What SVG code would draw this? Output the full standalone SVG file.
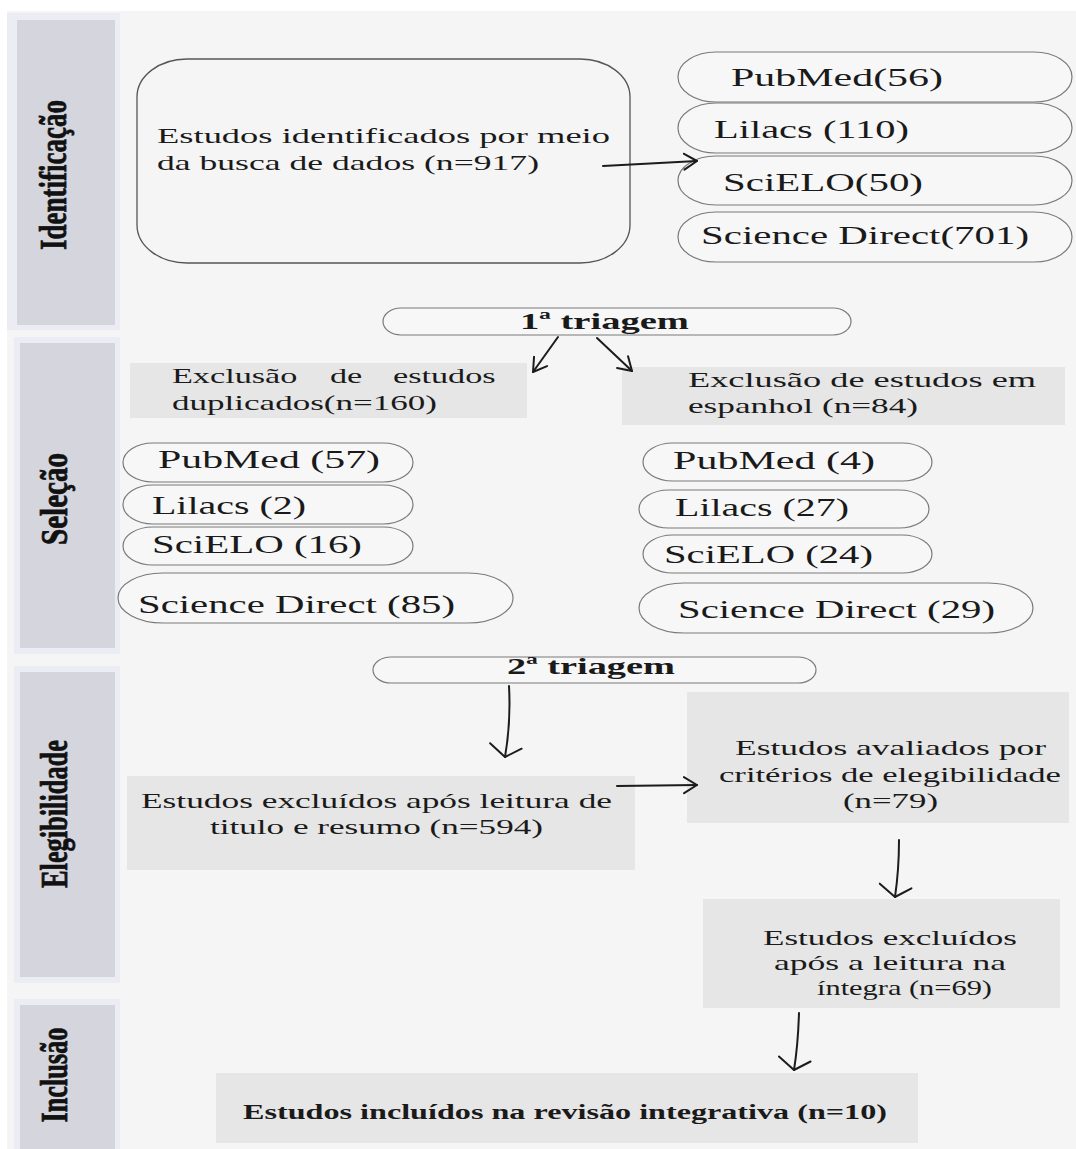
<svg xmlns="http://www.w3.org/2000/svg" width="1076" height="1149" viewBox="0 0 1076 1149">
<style>
.t{font-family:"Liberation Serif","Times New Roman",serif;fill:#1a1a1a}
.r{font-size:21px}
.p{font-size:26px}
.b{font-weight:bold}
.tri{font-size:24px;font-weight:bold}
.lab{font-family:"Liberation Serif","Times New Roman",serif;font-weight:bold;font-size:25px;fill:#111;stroke:#111;stroke-width:0.5}
.halo{fill:#ececf5}
.panel{fill:#d5d5de}
.pill{fill:#f7f7f7;stroke:#7a7a7a;stroke-width:1.2}
.box{fill:#e6e6e6}
.conn{fill:none;stroke:#1c1c1c;stroke-width:2;stroke-linecap:round}
</style>
<defs>
<marker id="ah" viewBox="-14 -12 16 24" refX="0" refY="0" markerWidth="16" markerHeight="24" markerUnits="userSpaceOnUse" orient="auto">
<path d="M-13,-8 L0,0 L-13,8" fill="none" stroke="#1c1c1c" stroke-width="2" stroke-linecap="round" stroke-linejoin="round"/>
</marker>
<marker id="ahw" viewBox="-14 -20 16 40" refX="0" refY="0" markerWidth="16" markerHeight="40" markerUnits="userSpaceOnUse" orient="auto">
<path d="M-11,-15 L0,0 L-11,17" fill="none" stroke="#1c1c1c" stroke-width="2" stroke-linecap="round" stroke-linejoin="round"/>
</marker>
</defs>
<rect x="0" y="0" width="1076" height="1149" fill="#ffffff"/>
<rect x="7" y="11" width="1069" height="1138" fill="#f5f5f5"/>

<g id="fase-identificacao">
<rect class="halo" x="7" y="13" width="113" height="317"/>
<rect class="panel" x="17" y="20" width="98" height="305"/>
<text class="lab" transform="translate(66,175) scale(1.55,1) rotate(-90)" text-anchor="middle" textLength="150" lengthAdjust="spacingAndGlyphs">Identificação</text>
</g>
<g id="fase-selecao">
<rect class="halo" x="14" y="337" width="106" height="317"/>
<rect class="panel" x="20" y="343" width="95" height="305"/>
<text class="lab" transform="translate(67,499) scale(1.55,1) rotate(-90)" text-anchor="middle" textLength="92" lengthAdjust="spacingAndGlyphs">Seleção</text>
</g>
<g id="fase-elegibilidade">
<rect class="halo" x="14" y="666" width="106" height="317"/>
<rect class="panel" x="20" y="672" width="95" height="305"/>
<text class="lab" transform="translate(67,814) scale(1.55,1) rotate(-90)" text-anchor="middle" textLength="148" lengthAdjust="spacingAndGlyphs">Elegibilidade</text>
</g>
<g id="fase-inclusao">
<rect class="halo" x="14" y="999" width="106" height="150"/>
<rect class="panel" x="20" y="1005" width="95" height="144"/>
<text class="lab" transform="translate(67,1075) scale(1.55,1) rotate(-90)" text-anchor="middle" textLength="95" lengthAdjust="spacingAndGlyphs">Inclusão</text>
</g>

<g id="estudos-identificados">
<rect x="137" y="59" width="493" height="204" rx="50" ry="38" fill="#f5f5f5" stroke="#555" stroke-width="1.3"/>
<text class="t r" x="157" y="143" textLength="453" lengthAdjust="spacingAndGlyphs">Estudos identificados por meio</text>
<text class="t r" x="157" y="170" textLength="382" lengthAdjust="spacingAndGlyphs">da busca de dados (n=917)</text>
</g>

<g id="id-pubmed">
<rect class="pill" x="678" y="52" width="394" height="50" rx="38" ry="25"/>
<text class="t p" x="731" y="86" textLength="212" lengthAdjust="spacingAndGlyphs">PubMed(56)</text>
</g>
<g id="id-lilacs">
<rect class="pill" x="678" y="103" width="394" height="50" rx="38" ry="25"/>
<text class="t p" x="714" y="138" textLength="195" lengthAdjust="spacingAndGlyphs">Lilacs (110)</text>
</g>
<g id="id-scielo">
<rect class="pill" x="678" y="156" width="394" height="49" rx="38" ry="24.5"/>
<text class="t p" x="723" y="191" textLength="200" lengthAdjust="spacingAndGlyphs">SciELO(50)</text>
</g>
<g id="id-sciencedirect">
<rect class="pill" x="678" y="212" width="394" height="50" rx="38" ry="25"/>
<text class="t p" x="701" y="244" textLength="328" lengthAdjust="spacingAndGlyphs">Science Direct(701)</text>
</g>

<g id="triagem-1">
<rect class="pill" x="383" y="308" width="468" height="27" rx="18" ry="13.5"/>
<text class="t tri" x="520" y="329" textLength="169" lengthAdjust="spacingAndGlyphs">1ª triagem</text>
</g>

<g id="exclusao-duplicados">
<rect class="box" x="130" y="363" width="397" height="55"/>
<text class="t r" transform="translate(0,383) scale(1.63,1)"><tspan x="105.5" y="0">Exclusão</tspan><tspan x="202.4" y="0">de</tspan><tspan x="241.1" y="0">estudos</tspan></text>
<text class="t r" x="172" y="410" textLength="265" lengthAdjust="spacingAndGlyphs">duplicados(n=160)</text>
</g>
<g id="exclusao-espanhol">
<rect class="box" x="622" y="367" width="443" height="58"/>
<text class="t r" x="688" y="387" textLength="348" lengthAdjust="spacingAndGlyphs">Exclusão de estudos em</text>
<text class="t r" x="688" y="413" textLength="230" lengthAdjust="spacingAndGlyphs">espanhol (n=84)</text>
</g>

<g id="dup-pubmed">
<rect class="pill" x="123" y="443" width="290" height="39" rx="30" ry="19.5"/>
<text class="t p" x="158" y="468" textLength="222" lengthAdjust="spacingAndGlyphs">PubMed (57)</text>
</g>
<g id="dup-lilacs">
<rect class="pill" x="123" y="485" width="290" height="39" rx="30" ry="19.5"/>
<text class="t p" x="152" y="514" textLength="154" lengthAdjust="spacingAndGlyphs">Lilacs (2)</text>
</g>
<g id="dup-scielo">
<rect class="pill" x="123" y="527" width="290" height="38" rx="30" ry="19"/>
<text class="t p" x="152" y="553" textLength="210" lengthAdjust="spacingAndGlyphs">SciELO (16)</text>
</g>
<g id="dup-sciencedirect">
<rect class="pill" x="118" y="573" width="395" height="50" rx="45" ry="25"/>
<text class="t p" x="138" y="613" textLength="317" lengthAdjust="spacingAndGlyphs">Science Direct (85)</text>
</g>

<g id="esp-pubmed">
<rect class="pill" x="643" y="443" width="289" height="38" rx="30" ry="19"/>
<text class="t p" x="673" y="469" textLength="202" lengthAdjust="spacingAndGlyphs">PubMed (4)</text>
</g>
<g id="esp-lilacs">
<rect class="pill" x="639" y="490" width="290" height="38" rx="30" ry="19"/>
<text class="t p" x="675" y="516" textLength="174" lengthAdjust="spacingAndGlyphs">Lilacs (27)</text>
</g>
<g id="esp-scielo">
<rect class="pill" x="643" y="535" width="289" height="38" rx="30" ry="19"/>
<text class="t p" x="664" y="563" textLength="209" lengthAdjust="spacingAndGlyphs">SciELO (24)</text>
</g>
<g id="esp-sciencedirect">
<rect class="pill" x="639" y="583" width="394" height="50" rx="45" ry="25"/>
<text class="t p" x="678" y="618" textLength="317" lengthAdjust="spacingAndGlyphs">Science Direct (29)</text>
</g>

<g id="triagem-2">
<rect class="pill" x="373" y="657" width="443" height="26" rx="18" ry="13"/>
<text class="t tri" x="507" y="674" textLength="168" lengthAdjust="spacingAndGlyphs">2ª triagem</text>
</g>

<g id="excluidos-titulo">
<rect class="box" x="127" y="776" width="508" height="94"/>
<text class="t r" x="141" y="808" textLength="471" lengthAdjust="spacingAndGlyphs">Estudos excluídos após leitura de</text>
<text class="t r" x="210" y="834" textLength="333" lengthAdjust="spacingAndGlyphs">titulo e resumo (n=594)</text>
</g>
<g id="avaliados">
<rect class="box" x="687" y="692" width="382" height="131"/>
<text class="t r" x="735" y="755" textLength="311" lengthAdjust="spacingAndGlyphs">Estudos avaliados por</text>
<text class="t r" x="719" y="782" textLength="342" lengthAdjust="spacingAndGlyphs">critérios de elegibilidade</text>
<text class="t r" x="843" y="808" textLength="95" lengthAdjust="spacingAndGlyphs">(n=79)</text>
</g>
<g id="excluidos-integra">
<rect class="box" x="703" y="899" width="357" height="109"/>
<text class="t r" x="763" y="945" textLength="254" lengthAdjust="spacingAndGlyphs">Estudos excluídos</text>
<text class="t r" x="774" y="970" textLength="232" lengthAdjust="spacingAndGlyphs">após a leitura na</text>
<text class="t r" x="817" y="995" textLength="175" lengthAdjust="spacingAndGlyphs">íntegra (n=69)</text>
</g>
<g id="incluidos">
<rect class="box" x="216" y="1073" width="702" height="70"/>
<text class="t b" font-size="20" x="243" y="1119" textLength="644" lengthAdjust="spacingAndGlyphs">Estudos incluídos na revisão integrativa (n=10)</text>
</g>

<g id="connectors">
<path class="conn" d="M603,166 L697,161" marker-end="url(#ah)"/>
<path class="conn" d="M558,337 L533,372" marker-end="url(#ah)"/>
<path class="conn" d="M597,338 L632,371" marker-end="url(#ah)"/>
<path class="conn" d="M509,686 Q511,722 505,757" marker-end="url(#ahw)"/>
<path class="conn" d="M617,786 L697,785" marker-end="url(#ah)"/>
<path class="conn" d="M899,840 Q899,870 895,897" marker-end="url(#ahw)"/>
<path class="conn" d="M799,1013 Q798,1045 794,1070" marker-end="url(#ahw)"/>
</g>
</svg>
